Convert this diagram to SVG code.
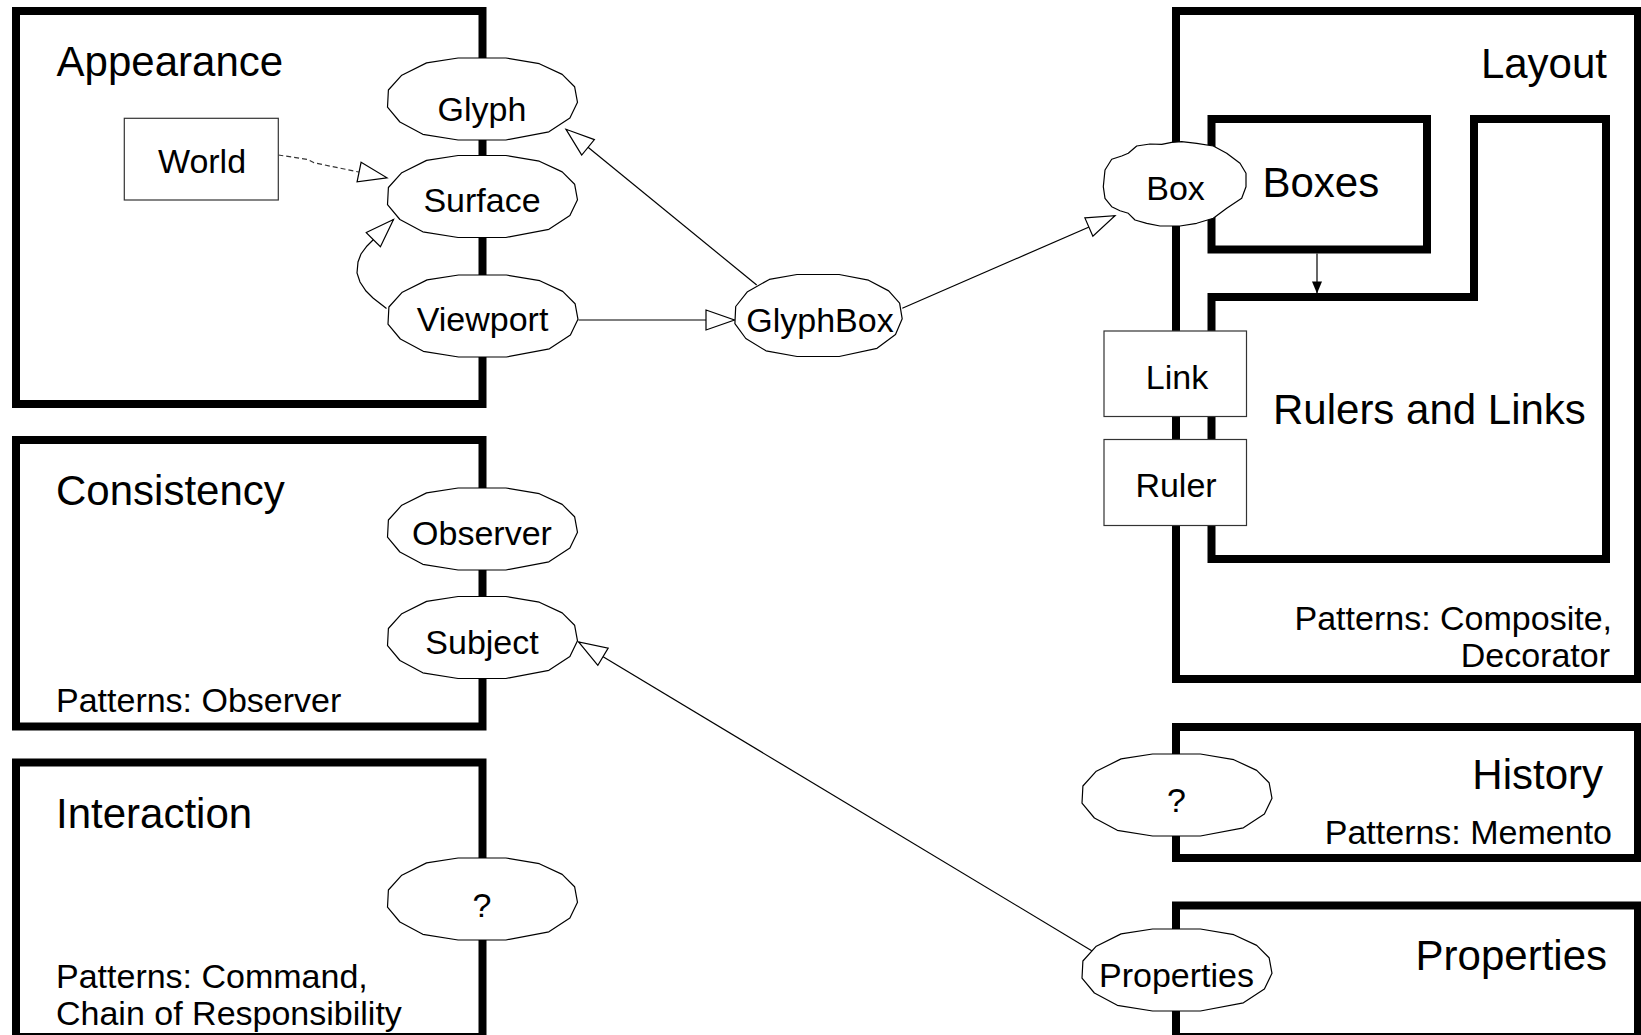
<svg xmlns="http://www.w3.org/2000/svg" width="1641" height="1035" viewBox="0 0 1641 1035">
<style>
.region{fill:none;stroke:#000;stroke-width:8;stroke-linejoin:miter}
.node{fill:#fff;stroke:#000;stroke-width:1.2;stroke-linejoin:round}
.rectnode{fill:#fff;stroke:#333;stroke-width:1.2}
.edge{fill:none;stroke:#000;stroke-width:1.2}
.dash{stroke:#333;stroke-dasharray:5 3}
text{font-family:"Liberation Sans",Arial,Helvetica,sans-serif;fill:#000}
.title{font-size:42px}
.lbl{font-size:34px}
.c{text-anchor:middle}
.e{text-anchor:end}
</style>
<defs>
<marker id="hollow" markerUnits="userSpaceOnUse" markerWidth="32" markerHeight="24" refX="29" refY="10.5" orient="auto" overflow="visible">
<path d="M0.5,0.5 L29,10.5 L0.5,20.5 Z" fill="#fff" stroke="#000" stroke-width="1.2"/>
</marker>
<marker id="solid" markerUnits="userSpaceOnUse" markerWidth="12" markerHeight="10" refX="12" refY="5" orient="auto" overflow="visible">
<path d="M0,0 L12,5 L0,10 Z" fill="#000"/>
</marker>
</defs>

<g id="regions">
<g id="appearance"><rect class="region" x="16" y="11" width="466.5" height="393"/><text class="title" x="56.6" y="76">Appearance</text></g>
<g id="consistency"><rect class="region" x="16" y="440" width="466.5" height="286.5"/><text class="title" x="56" y="505">Consistency</text><text class="lbl" x="56" y="712">Patterns: Observer</text></g>
<g id="interaction"><rect class="region" x="16" y="762.5" width="466.5" height="274.5"/><text class="title" x="56" y="828">Interaction</text><text class="lbl" x="56" y="988">Patterns: Command,</text><text class="lbl" x="56" y="1025">Chain of Responsibility</text></g>
<g id="layout"><rect class="region" x="1176" y="11" width="462" height="668"/><text class="title e" x="1607" y="78">Layout</text><text class="lbl e" x="1612" y="630">Patterns: Composite,</text><text class="lbl e" x="1610" y="667">Decorator</text></g>
<g id="boxes"><rect class="region" x="1211.5" y="119" width="215.5" height="130.5"/><text class="title" x="1262.5" y="197">Boxes</text></g>
<g id="rulers-links"><polygon class="region" points="1211.5,297 1474,297 1474,119 1606,119 1606,559 1211.5,559"/><text class="title" x="1273" y="424">Rulers and Links</text></g>
<g id="history"><rect class="region" x="1176" y="727" width="462" height="131"/><text class="title e" x="1603" y="789">History</text><text class="lbl e" x="1612" y="844">Patterns: Memento</text></g>
<g id="properties-region"><rect class="region" x="1176" y="905.5" width="462" height="131.5"/><text class="title e" x="1607" y="970">Properties</text></g>
</g>

<g id="connectors">
<path class="edge dash" d="M278.3,155 L294,157.3 L308,159.5 L314,162.8 L387,177.8" marker-end="url(#hollow)"/>
<path class="edge" d="M386.5,308.5 L373,298 L366,291 L360,282 L357,273 L358,262 L361,254 L367,246 L376,237 L393.5,219.5" marker-end="url(#hollow)"/>
<path class="edge" d="M756.7,285 L566,129.3" marker-end="url(#hollow)"/>
<path class="edge" d="M578.5,320 L734.5,320" marker-end="url(#hollow)"/>
<path class="edge" d="M902.3,308.3 L1115,215.7" marker-end="url(#hollow)"/>
<path class="edge" d="M1091.7,950.7 L578.6,642" marker-end="url(#hollow)"/>
<path class="edge" d="M1317,253.5 L1317,293.5" marker-end="url(#solid)"/>
</g>

<g id="node-glyph"><path class="node" d="M458.1,58 h47.8 l33.4,5.7 22.9,10.7 12.4,12.3 2.9,15.6 -7.6,15.6 -21,13.9 -43,8.2 h-47.8 l-35.3,-5.7 -22.9,-12.3 -12.4,-14.8 0.9,-17.2 13.4,-14.8 24.8,-12.3 z"/><text class="lbl c" x="482" y="121">Glyph</text></g>
<g id="node-surface"><path class="node" d="M458.1,155.5 h47.8 l33.4,5.7 22.9,10.7 12.4,12.3 2.9,15.6 -7.6,15.6 -21,13.9 -43,8.2 h-47.8 l-35.3,-5.7 -22.9,-12.3 -12.4,-14.8 0.9,-17.2 13.4,-14.8 24.8,-12.3 z"/><text class="lbl c" x="482" y="211.5">Surface</text></g>
<g id="node-viewport"><path class="node" d="M458.6,275 h47.8 l33.4,5.7 22.9,10.7 12.4,12.3 2.9,15.6 -7.6,15.6 -21,13.9 -43,8.2 h-47.8 l-35.3,-5.7 -22.9,-12.3 -12.4,-14.8 0.9,-17.2 13.4,-14.8 24.8,-12.3 z"/><text class="lbl c" x="482.5" y="330.5">Viewport</text></g>
<g id="node-glyphbox"><path class="node" d="M797,274.5 h42.1 l29.4,5.7 20.2,10.7 10.9,12.3 2.6,15.6 -6.7,15.6 -18.5,13.9 -37.8,8.2 h-42.1 l-31.1,-5.7 -20.2,-12.3 -10.9,-14.8 0.8,-17.2 11.8,-14.8 21.8,-12.3 z"/><text class="lbl c" x="820" y="331.5">GlyphBox</text></g>
<g id="node-world"><rect class="rectnode" x="124.3" y="118.3" width="154" height="81.7"/><text class="lbl c" x="202" y="173">World</text></g>
<g id="node-observer"><path class="node" d="M458.1,488 h47.8 l33.4,5.7 22.9,10.7 12.4,12.3 2.9,15.6 -7.6,15.6 -21,13.9 -43,8.2 h-47.8 l-35.3,-5.7 -22.9,-12.3 -12.4,-14.8 0.9,-17.2 13.4,-14.8 24.8,-12.3 z"/><text class="lbl c" x="482" y="545">Observer</text></g>
<g id="node-subject"><path class="node" d="M458.1,596.5 h47.8 l33.4,5.7 22.9,10.7 12.4,12.3 2.9,15.6 -7.6,15.6 -21,13.9 -43,8.2 h-47.8 l-35.3,-5.7 -22.9,-12.3 -12.4,-14.8 0.9,-17.2 13.4,-14.8 24.8,-12.3 z"/><text class="lbl c" x="482" y="653.5">Subject</text></g>
<g id="node-interaction-q"><path class="node" d="M458.1,858 h47.8 l33.4,5.7 22.9,10.7 12.4,12.3 2.9,15.6 -7.6,15.6 -21,13.9 -43,8.2 h-47.8 l-35.3,-5.7 -22.9,-12.3 -12.4,-14.8 0.9,-17.2 13.4,-14.8 24.8,-12.3 z"/><text class="lbl c" x="482" y="916.5">?</text></g>
<g id="node-box"><path class="node" d="M1103.3,186.7 L1105,170 L1111.7,159.3 L1121.7,156 L1128.3,153.3 L1136.7,146 L1150,144 L1161.7,144.3 L1171.7,142.3 L1181.7,141.7 L1196.7,143.3 L1213.3,146 L1226.7,153.3 L1240,163.3 L1246,173.3 L1246,186.7 L1241.7,198.3 L1226.7,208.3 L1213.3,218.3 L1196.7,223.3 L1180,226 L1160,226 L1146.7,223.3 L1135,220 L1128.3,213.3 L1120,210.7 L1111.7,206.7 L1105,198.3 Z"/><text class="lbl c" x="1175.5" y="200">Box</text></g>
<g id="node-link"><rect class="rectnode" x="1104" y="331" width="142.5" height="85.5"/><text class="lbl c" x="1177" y="388.5">Link</text></g>
<g id="node-ruler"><rect class="rectnode" x="1104" y="439.5" width="142.5" height="86"/><text class="lbl c" x="1176" y="497">Ruler</text></g>
<g id="node-history-q"><path class="node" d="M1152.6,754 h47.8 l33.4,5.7 22.9,10.7 12.4,12.3 2.9,15.6 -7.6,15.6 -21,13.9 -43,8.2 h-47.8 l-35.3,-5.7 -22.9,-12.3 -12.4,-14.8 0.9,-17.2 13.4,-14.8 24.8,-12.3 z"/><text class="lbl c" x="1176.5" y="812">?</text></g>
<g id="node-properties"><path class="node" d="M1152.6,929 h47.8 l33.4,5.7 22.9,10.7 12.4,12.3 2.9,15.6 -7.6,15.6 -21,13.9 -43,8.2 h-47.8 l-35.3,-5.7 -22.9,-12.3 -12.4,-14.8 0.9,-17.2 13.4,-14.8 24.8,-12.3 z"/><text class="lbl c" x="1176.5" y="986.5">Properties</text></g>
</svg>
